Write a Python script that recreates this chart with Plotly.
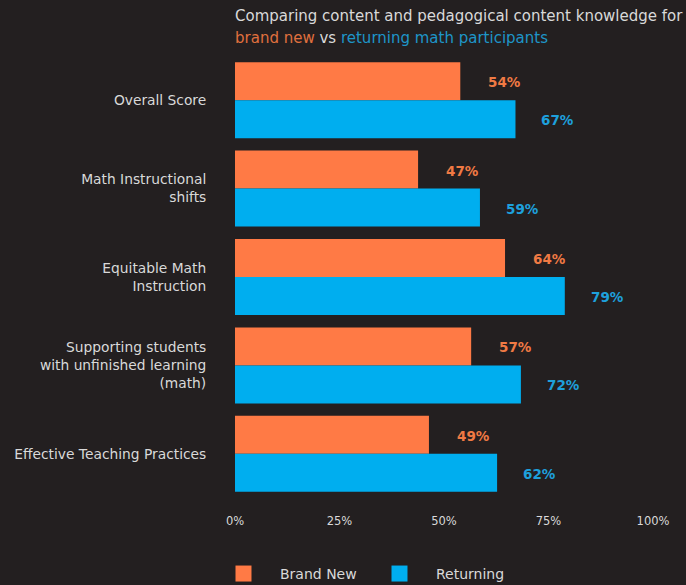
import plotly.graph_objects as go

categories = ["Overall Score", "Math Instructional<br>shifts", "Equitable Math<br>Instruction",
              "Supporting students<br>with unfinished learning<br>(math)", "Effective Teaching Practices"]
# bar lengths
brand_new = [53.9, 43.8, 64.6, 56.5, 46.4]
returning = [67.1, 58.6, 78.9, 68.4, 62.7]
# value labels as printed
brand_new_labels = ["54%", "47%", "64%", "57%", "49%"]
returning_labels = ["67%", "59%", "79%", "72%", "62%"]
tick_vals = [0, 25, 50, 75, 100]
tick_text = ["0%", "25%", "50%", "75%", "100%"]

BG = "#231f20"
ORANGE = "#ff7a45"
BLUE = "#00aeef"
TXT = "#d9d9d9"
FONT = "DejaVu Sans"

fig = go.Figure()
fig.add_trace(go.Bar(y=categories, x=brand_new, orientation="h", name="Brand New",
                     marker=dict(color=ORANGE, line=dict(width=0)), showlegend=False, hoverinfo="skip"))
fig.add_trace(go.Bar(y=categories, x=returning, orientation="h", name="Returning",
                     marker=dict(color=BLUE, line=dict(width=0)), showlegend=False, hoverinfo="skip"))
# legend entries
fig.add_trace(go.Scatter(x=[None], y=[None], mode="markers", name="Brand New",
                         marker=dict(symbol="square", size=16, color=ORANGE, line=dict(width=0))))
fig.add_trace(go.Scatter(x=[None], y=[None], mode="markers", name="Returning",
                         marker=dict(symbol="square", size=16, color=BLUE, line=dict(width=0))))

anns = []
for c, v, t in zip(categories, brand_new, brand_new_labels):
    anns.append(dict(x=v, y=c, xref="x", yref="y", text=f"<b>{t}</b>", showarrow=False,
                     xanchor="left", xshift=26, yshift=18,
                     font=dict(family=FONT, size=13.5, color="#f07a44")))
for c, v, t in zip(categories, returning, returning_labels):
    anns.append(dict(x=v, y=c, xref="x", yref="y", text=f"<b>{t}</b>", showarrow=False,
                     xanchor="left", xshift=24, yshift=-20,
                     font=dict(family=FONT, size=13.5, color="#1ea0dc")))
anns.append(dict(x=0, y=1, xref="paper", yref="paper", xanchor="left", yanchor="middle",
                 yshift=40, showarrow=False, xshift=-2,
                 text="Comparing content and pedagogical content knowledge for",
                 font=dict(family=FONT, size=15, color=TXT)))
anns.append(dict(x=0, y=1, xref="paper", yref="paper", xanchor="left", yanchor="middle",
                 yshift=18, showarrow=False, xshift=-2,
                 text="<span style='color:#e0703e'>brand new</span> vs "
                      "<span style='color:#1e95c8'>returning math participants</span>",
                 font=dict(family=FONT, size=15, color=TXT)))

fig.update_layout(
    width=686, height=610,
    paper_bgcolor=BG, plot_bgcolor=BG,
    margin=dict(l=235, r=33, t=56, b=111.5),
    barmode="group", bargap=0.14, bargroupgap=0,
    font=dict(family=FONT, color=TXT, size=13),
    xaxis=dict(range=[0, 100], tickvals=tick_vals, ticktext=tick_text, showgrid=False,
               zeroline=False, showline=False, ticks="outside", ticklen=12,
               tickcolor="rgba(0,0,0,0)", tickfont=dict(size=11.5, color=TXT), fixedrange=True),
    yaxis=dict(autorange="reversed", showgrid=False, zeroline=False, ticks="outside",
               ticklen=25, tickcolor="rgba(0,0,0,0)", tickfont=dict(size=13.8, color=TXT),
               fixedrange=True),
    legend=dict(orientation="h", x=-0.067, xanchor="left", y=-0.1356, yanchor="top",
                font=dict(size=14, color=TXT), entrywidth=78, entrywidthmode="pixels",
                itemwidth=63, bgcolor="rgba(0,0,0,0)"),
    annotations=anns,
)

fig.write_html("out.html", config={"displayModeBar": False},
               post_script="document.body.style.margin='0';document.body.style.overflow='hidden';"
                           "document.documentElement.style.overflow='hidden';"
                           "document.body.style.background='#231f20';")
